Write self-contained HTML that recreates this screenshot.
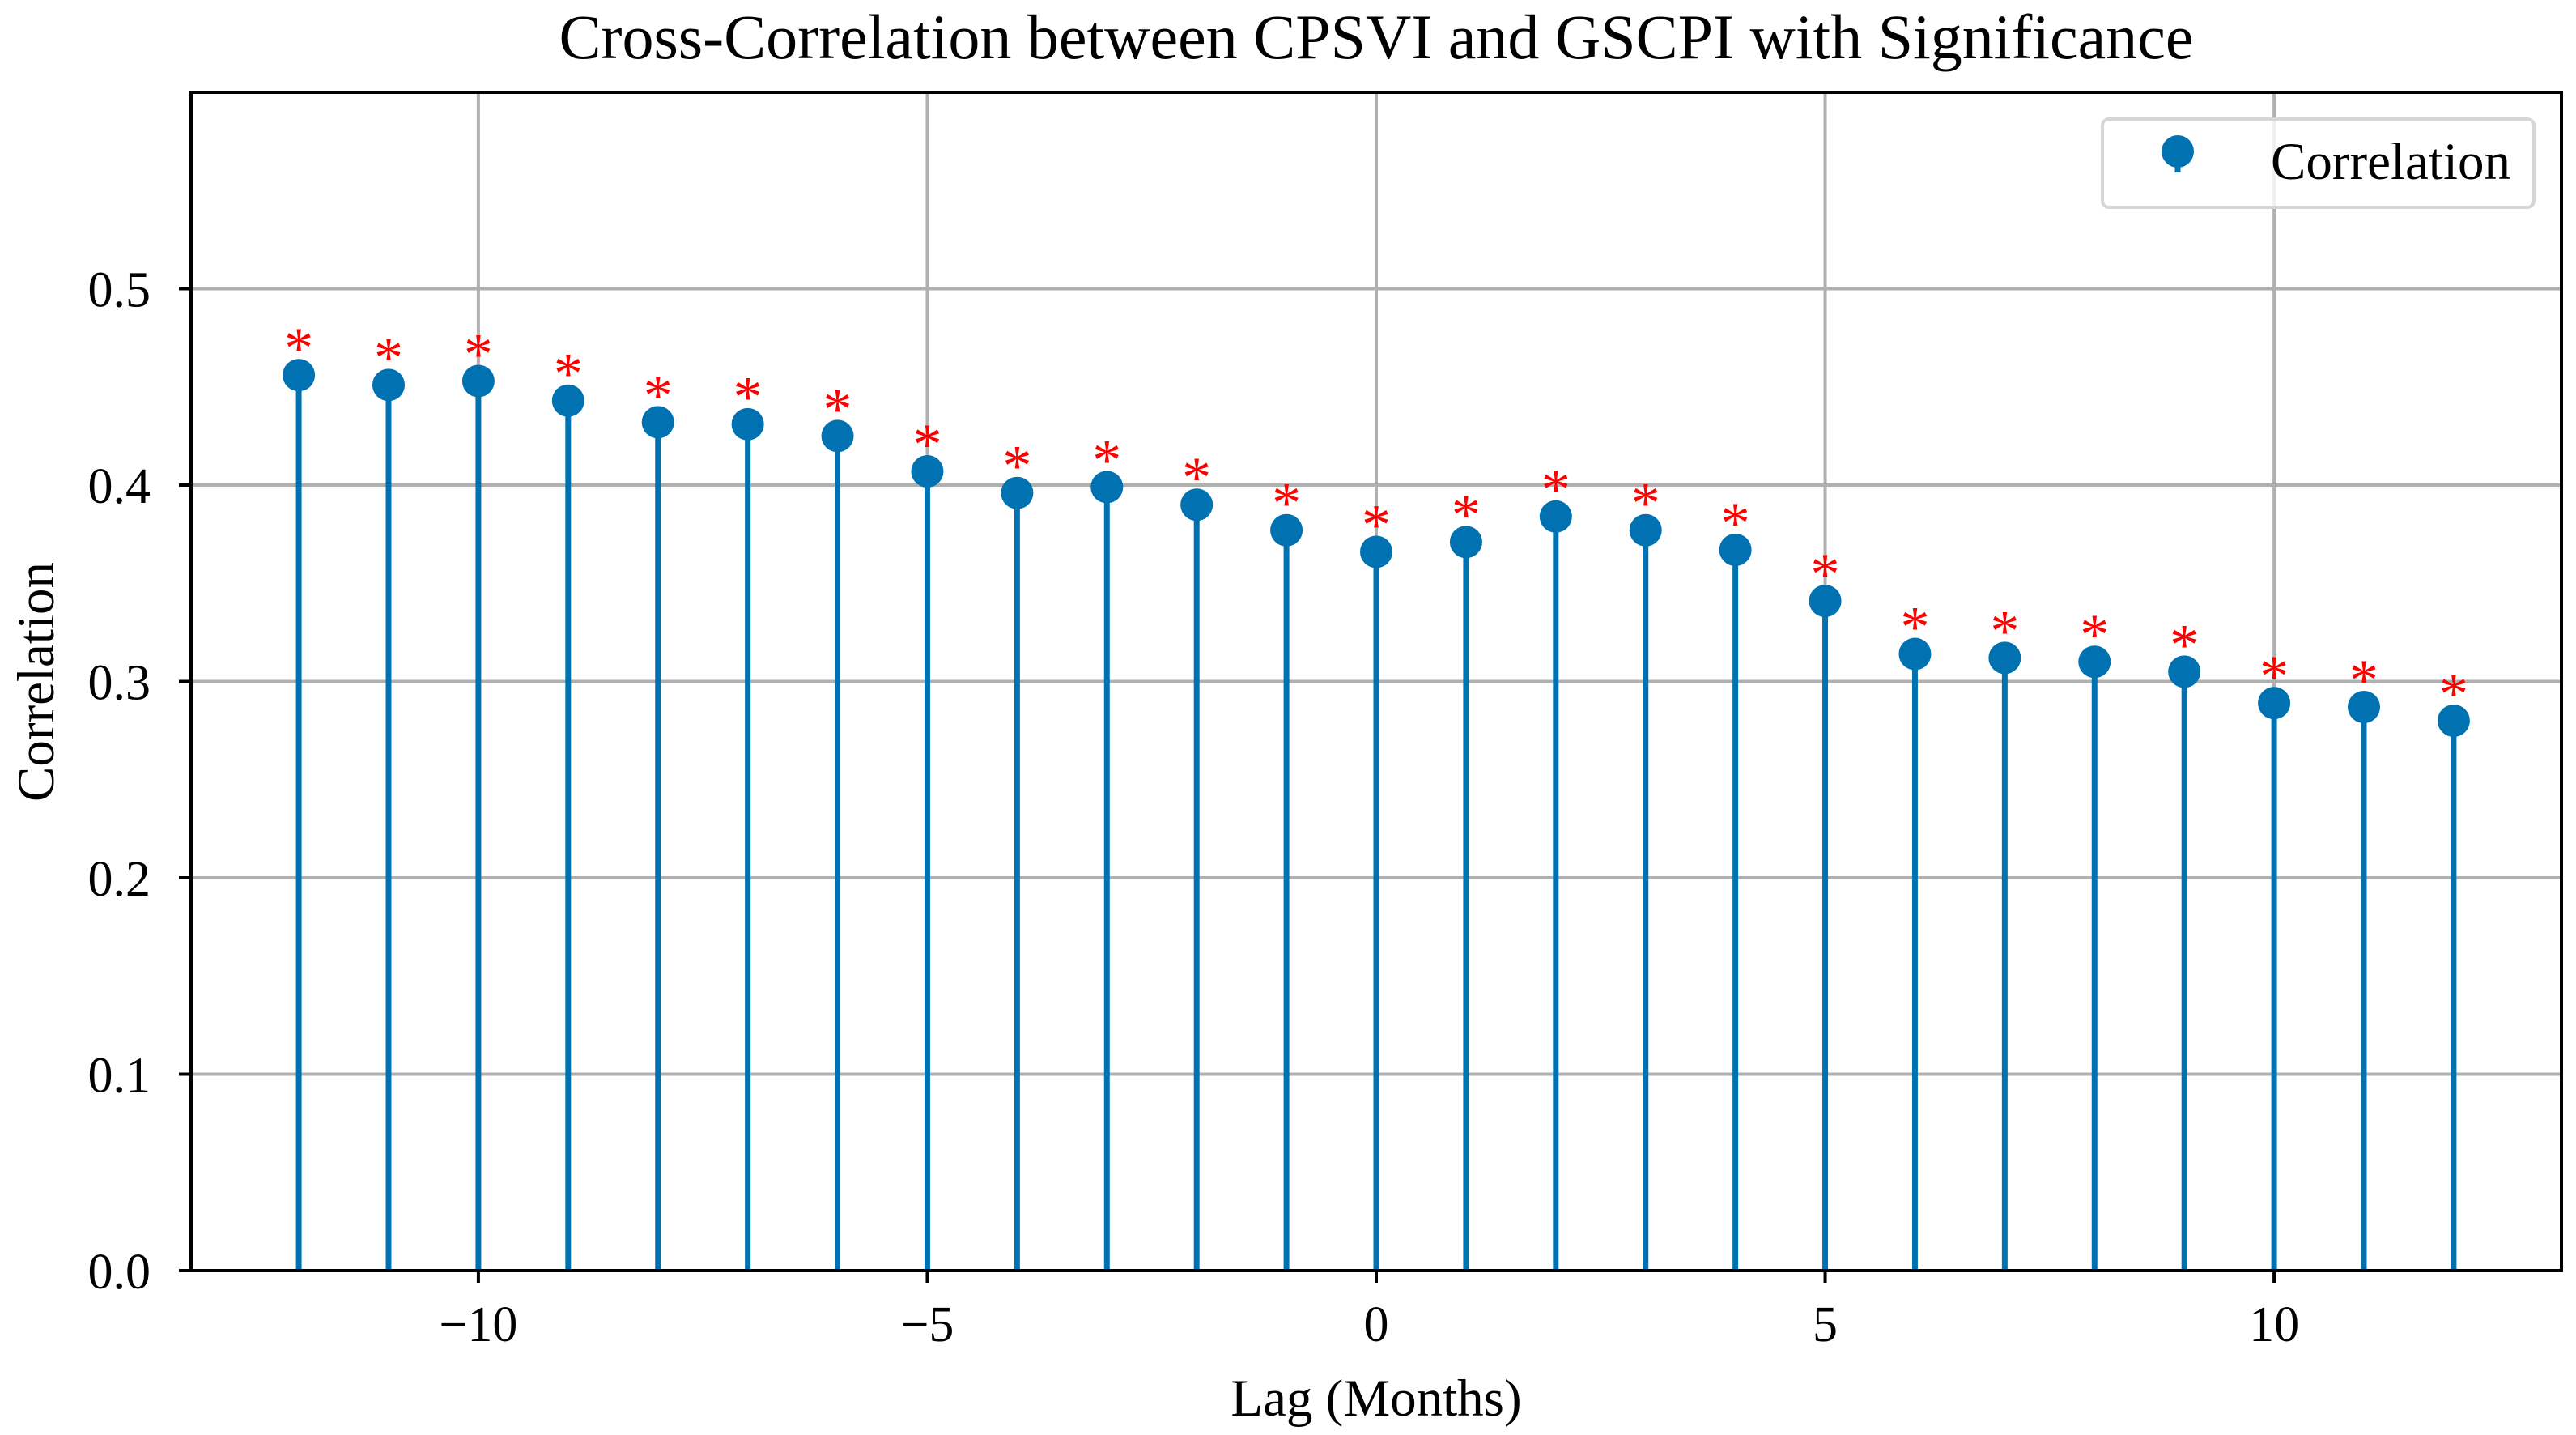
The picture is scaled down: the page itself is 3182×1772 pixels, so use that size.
<!DOCTYPE html>
<html><head><meta charset="utf-8"><style>
html,body{margin:0;padding:0;background:#fff;}
svg{display:block;font-family:"Liberation Serif","DejaVu Serif",serif;}
</style></head><body>
<svg id="chart" width="3182" height="1772" viewBox="0 0 3182 1772" xmlns="http://www.w3.org/2000/svg">
<rect x="0" y="0" width="3182" height="1772" fill="#fff"/>
<text x="1700" y="72" font-size="78" text-anchor="middle" fill="#000">Cross-Correlation between CPSVI and GSCPI with Significance</text>
<g id="grid"></g>
<g id="marks"></g>
<g id="axes"></g>
<text x="0" y="0" font-size="65" text-anchor="middle" fill="#000" transform="translate(66,842) rotate(-90)">Correlation</text>
<text x="1700" y="1748" font-size="65" text-anchor="middle" fill="#000">Lag (Months)</text>
<g>
<rect x="2597" y="147" width="533" height="109" rx="8" fill="#fff" fill-opacity="0.8" stroke="#d6d6d6" stroke-width="4"/>
<line x1="2690" y1="189" x2="2690" y2="213" stroke="#0072b2" stroke-width="7"/>
<circle cx="2690" cy="187" r="20" fill="#0072b2"/>
<text x="2805" y="221" font-size="65" fill="#000">Correlation</text>
</g>
</svg>
<script>
const lags = [-12,-11,-10,-9,-8,-7,-6,-5,-4,-3,-2,-1,0,1,2,3,4,5,6,7,8,9,10,11,12];
const correlations = [0.456,0.451,0.453,0.443,0.432,0.431,0.425,0.407,0.396,0.399,0.390,0.377,0.366,0.371,0.384,0.377,0.367,0.341,0.314,0.312,0.310,0.305,0.289,0.287,0.280];
const significant = [1,1,1,1,1,1,1,1,1,1,1,1,1,1,1,1,1,1,1,1,1,1,1,1,1];
const xTicks = [-10,-5,0,5,10];
const xTickLabels = ["\u221210","\u22125","0","5","10"];
const yTicks = [0,0.1,0.2,0.3,0.4,0.5];
const yTickLabels = ["0.0","0.1","0.2","0.3","0.4","0.5"];

const L=236,R=3164,T=114,B=1569;
const xMin=-13.2,xMax=13.2,yMin=0,yMax=0.6;
const sx=v=>L+(v-xMin)/(xMax-xMin)*(R-L);
const sy=v=>B-(v-yMin)/(yMax-yMin)*(B-T);
const NS="http://www.w3.org/2000/svg";
function mk(tag,attrs,parent){const e=document.createElementNS(NS,tag);for(const k in attrs)e.setAttribute(k,attrs[k]);parent.appendChild(e);return e;}
const grid=document.getElementById('grid'),marks=document.getElementById('marks'),axes=document.getElementById('axes');

xTicks.forEach((t,i)=>{
  const g=mk('line',{x1:sx(t),x2:sx(t),y1:T,y2:B,stroke:'#b0b0b0','stroke-width':4},grid);
  
  
  const tk=mk('line',{x1:sx(t),x2:sx(t),y1:B,y2:B+15,stroke:'#000','stroke-width':4},axes);
  
  
  const tx=mk('text',{x:sx(t),y:1656,'font-size':62,'text-anchor':'middle',fill:'#000'},axes);
  tx.textContent=xTickLabels[i];
  
  
});
yTicks.forEach((t,i)=>{
  const g=mk('line',{x1:L,x2:R,y1:sy(t),y2:sy(t),stroke:'#b0b0b0','stroke-width':4},grid);
  
  
  const tk=mk('line',{x1:L-15,x2:L,y1:sy(t),y2:sy(t),stroke:'#000','stroke-width':4},axes);
  
  
  const tx=mk('text',{x:L-50,y:sy(t)+22,'font-size':62,'text-anchor':'end',fill:'#000'},axes);
  tx.textContent=yTickLabels[i];
  
  
});
lags.forEach((lag,i)=>{
  const v=correlations[i];
  const s=mk('line',{x1:sx(lag),x2:sx(lag),y1:sy(0),y2:sy(v),stroke:'#0072b2','stroke-width':7},marks);
  
  
  const c=mk('circle',{cx:sx(lag),cy:sy(v),r:20,fill:'#0072b2'},marks);
  
  
  if(significant[i]){
    const st=mk('text',{x:sx(lag),y:sy(v+0.012)+20,'font-size':72,'text-anchor':'middle',fill:'#ff0000'},marks);
    st.textContent='*';
    
    
  }
});
const fr=mk('rect',{x:L,y:T,width:R-L,height:B-T,fill:'none',stroke:'#000','stroke-width':4},axes);


</script>
</body></html>
